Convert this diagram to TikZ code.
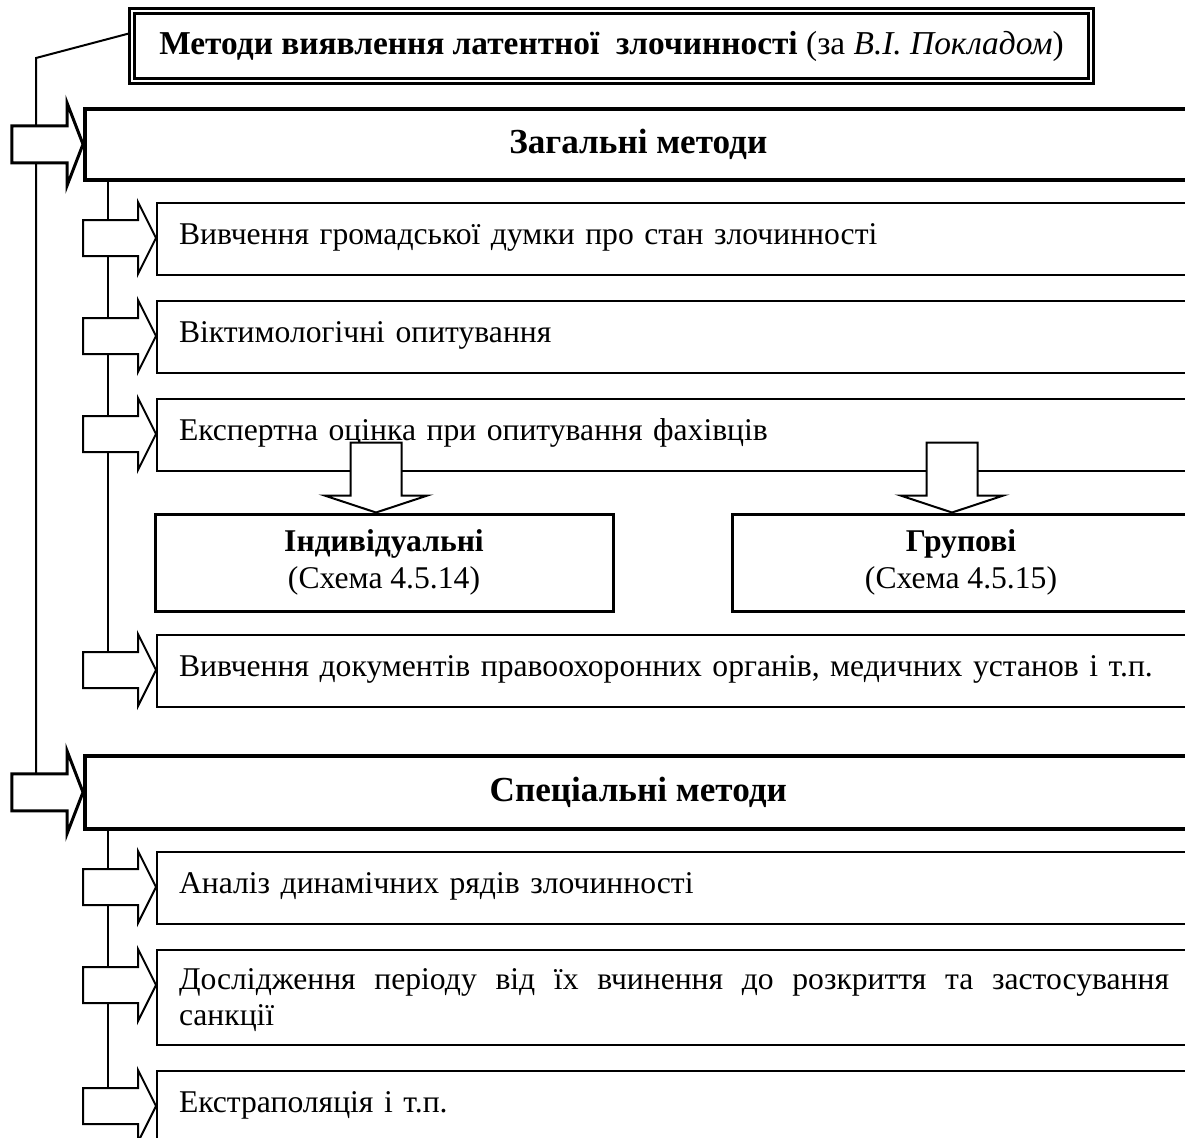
\documentclass[tikz,border=0pt]{standalone}
\usepackage{fontspec}
\setmainfont{Liberation Serif}
\usetikzlibrary{positioning}

% block arrows
\newcommand{\mainarr}[1]{%
  \draw[bigarr] (#1.west) -- ++(-0.32,0.83) -- ++(0,-0.46) -- ++(-1.10,0)
    -- ++(0,-0.74) -- ++(1.10,0) -- ++(0,-0.46) -- cycle;}
\newcommand{\subarr}[1]{%
  \draw[smallarr] ([yshift=-0.72cm]#1.north west) -- ++(-0.36,0.72) -- ++(0,-0.36)
    -- ++(-1.10,0) -- ++(0,-0.72) -- ++(1.10,0) -- ++(0,-0.36) -- cycle;}
\newcommand{\downarr}[2]{%
  \draw[smallarr] ([xshift=#2cm]#1.north) -- ++(-1.03,0.34) -- ++(0.52,0) -- ++(0,1.06)
    -- ++(1.02,0) -- ++(0,-1.06) -- ++(0.52,0) -- cycle;}

\begin{document}
\begin{tikzpicture}[
    every node/.style={font=\fontsize{18pt}{21pt}\selectfont},
    node distance=0.48cm,
    titlebox/.style={draw, double, line width=0.05cm, double distance=0.05cm,
      minimum width=19.18cm, minimum height=1.40cm, inner sep=0,
      font=\fontsize{19pt}{22pt}\selectfont},
    mainbox/.style={draw, line width=0.07cm, anchor=north west, minimum width=22.14cm,
      inner sep=0, font=\bfseries\fontsize{20pt}{22pt}\selectfont},
    subbox/.style={draw, line width=0.04cm, anchor=north west, text width=19.80cm,
      inner xsep=0.44cm, inner ysep=0, minimum height=1.44cm, align=left,
      text height=0.45cm, text depth=0.25cm},
    kindbox/.style={draw, line width=0.06cm, minimum width=9.16cm, minimum height=1.94cm,
      align=center, inner sep=0},
    conn/.style={line width=0.04cm},
    bigarr/.style={draw, fill=white, line width=0.06cm},
    smallarr/.style={draw, fill=white, line width=0.04cm}
  ]
    \useasboundingbox (0,0) rectangle (23.70,-22.74);
    \clip (0,0) rectangle (23.70,-22.74);

    % Title
    \node[titlebox] (title) at (12.23,-0.92)
      {\textbf{Методи виявлення латентної\ \ злочинності} (за \textit{В.І. Покладом})};

    % General methods
    \node[mainbox, minimum height=1.42cm] (gen) at (1.66,-2.14) {Загальні методи};
    \node[subbox] (b1) at (3.12,-4.04) {Вивчення громадської думки про стан злочинності};
    \node[subbox, below=of b1] (b2) {Віктимологічні опитування};
    \node[subbox, below=of b2] (b3) {Експертна оцінка при опитування фахівців};
    \node[kindbox] (indiv) at (7.68,-11.25) {\textbf{Індивідуальні}\\(Схема 4.5.14)};
    \node[kindbox] (group) at (19.22,-11.25) {\textbf{Групові}\\(Схема 4.5.15)};
    \node[subbox] (b4) at (3.12,-12.68)
      {Вивчення документів правоохоронних органів, медичних установ і т.п.};

    % Special methods
    \node[mainbox, minimum height=1.46cm] (spec) at (1.66,-15.08) {Спеціальні методи};
    \node[subbox] (s1) at (3.12,-17.02) {Аналіз динамічних рядів злочинності};
    \node[subbox, below=of s1, minimum height=1.90cm, align=justify, text depth=0.79cm] (s2)
      {Дослідження періоду від їх вчинення до розкриття та застосування\linebreak санкції};
    \node[subbox, below=of s2] (s3) {Екстраполяція і т.п.};

    % Connectors
    \coordinate (bend) at (0.72,-1.16);
    \draw[conn] ([yshift=0.26cm]title.west) -- (bend) -- (bend |- spec.west);
    \coordinate (gtop) at ([xshift=0.5cm]gen.south west);
    \draw[conn] (gtop) -- (gtop |- b4.west);
    \coordinate (sptop) at ([xshift=0.5cm]spec.south west);
    \draw[conn] (sptop) -- (sptop |- s3.west);

    % Arrows
    \mainarr{gen}
    \mainarr{spec}
    \foreach \b in {b1,b2,b3,b4,s1,s2,s3} {\subarr{\b}}
    \downarr{indiv}{-0.16}
    \downarr{group}{-0.18}
\end{tikzpicture}
\end{document}
